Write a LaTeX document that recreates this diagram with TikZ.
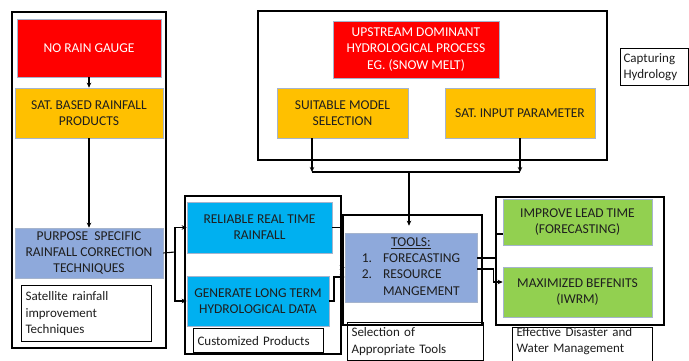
\documentclass[tikz,border=0pt]{standalone}
\usepackage{fontspec}
\setmainfont{Carlito}
\usetikzlibrary{arrows.meta}
\definecolor{cred}{RGB}{255,0,0}
\definecolor{corange}{RGB}{255,192,0}
\definecolor{cslate}{RGB}{142,169,219}
\definecolor{ccyan}{RGB}{0,176,240}
\definecolor{cgreen}{RGB}{146,208,80}
\definecolor{cedge}{RGB}{165,180,205}
\definecolor{ctext}{RGB}{30,30,30}
\begin{document}
\begin{tikzpicture}[x=1pt,y=-1pt,
  box/.style={draw=cedge,line width=0.6pt,align=center,inner sep=1pt,
    font=\fontsize{13.5}{16.2}\selectfont,text=ctext},
  frame/.style={draw=black,line width=1.3pt},
  lab/.style={draw=black,line width=1.1pt,align=left,anchor=north west,inner xsep=4pt,inner ysep=2pt,
    font=\fontsize{13}{16.5}\selectfont,text=ctext},
  line/.style={draw=black,line width=1.1pt},
  arr/.style={line,-{Stealth[length=5pt,width=4.5pt]}}]
\clip (0,0) rectangle (689,361);
\fill[white] (0,0) rectangle (689,361);

% frames
\draw[frame] (12,12) rectangle (166,348);
\draw[frame] (258,11) rectangle (607,160);
\draw[frame] (185,196) rectangle (341,354);
\draw[frame] (343,215) rectangle (482,325);
\draw[frame] (496,197) rectangle (664,325);

% left column
\node[box,fill=cred,text=white,minimum width=144pt,minimum height=58pt] (nrg) at (89,48) {NO RAIN GAUGE};
\node[box,fill=corange,minimum width=148pt,minimum height=50pt] (sat) at (89,113) {SAT. BASED RAINFALL\\PRODUCTS};
\node[box,fill=cslate,minimum width=148pt,minimum height=50pt] (purpose) at (89,253) {PURPOSE\ \ SPECIFIC\\RAINFALL CORRECTION\\TECHNIQUES};
\node[lab,text width=122pt,minimum height=56pt] (lab1) at (21,285) {Satellite rainfall\\improvement\\Techniques};

% top block
\node[box,fill=cred,text=white,minimum width=166pt,minimum height=57pt] (up) at (416,49.5) {UPSTREAM DOMINANT\\HYDROLOGICAL PROCESS\\EG. (SNOW MELT)};
\node[box,fill=corange,minimum width=131pt,minimum height=50pt] (suit) at (342.5,113) {SUITABLE MODEL\\SELECTION};
\node[box,fill=corange,minimum width=150pt,minimum height=50pt] (satin) at (520,113) {SAT. INPUT PARAMETER};
\node[lab,inner xsep=3pt,text width=62pt,minimum height=37pt] (lab2) at (620,48) {Capturing\\Hydrology};

% customized products
\node[box,fill=ccyan,minimum width=145pt,minimum height=51pt] (rel) at (259.5,227.5) {RELIABLE REAL TIME\\RAINFALL};
\node[box,fill=ccyan,minimum width=142pt,minimum height=50pt] (gen) at (258,301) {GENERATE LONG TERM\\HYDROLOGICAL DATA};
\node[lab,text width=122pt,minimum height=24pt] (lab3) at (193,328) {Customized Products};

% tools
\node[box,fill=cslate,minimum width=132pt,minimum height=69pt,inner sep=0pt] (tools) at (411,267.5)
  {\begin{tabular}{@{}l@{\hspace{11pt}}l@{}}\multicolumn{2}{c}{\underline{TOOLS:}}\\1.&FORECASTING\\2.&RESOURCE\\&MANGEMENT\end{tabular}};
\node[lab,text width=128pt,minimum height=38pt] (lab4) at (347,322) {Selection of\\Appropriate Tools};

% outcomes
\node[box,fill=cgreen,minimum width=149pt,minimum height=46pt] (imp) at (577.5,222) {IMPROVE LEAD TIME\\(FORECASTING)};
\node[box,fill=cgreen,minimum width=149pt,minimum height=50pt] (max) at (577.5,292) {MAXIMIZED BEFENITS\\(IWRM)};
\node[lab,inner ysep=0pt,text width=132pt,font=\fontsize{13}{15.5}\selectfont] (lab5) at (512,327) {Effective Disaster and\\Water Management\\[3pt]\mbox{}};

% connectors
\draw[arr] (nrg.south) -- (sat.north);
\draw[arr] (sat.south) -- (purpose.north);
\coordinate (p1) at (175,252);
\draw[line] (purpose.east) -- (p1);
\draw[arr] (p1) |- (rel.west);
\draw[arr] (p1) |- (gen.west);

\coordinate (r1) at (341,227.5);
\draw[arr] (rel.east) -- (r1) |- (tools.west);
\coordinate (g1) at (334,277);
\draw[arr] (gen.east) -| (g1) -- (tools.west |- g1);

\coordinate (j0) at (312,172);
\coordinate (j2) at (520,172);
\coordinate (j1) at (409,172);
\draw[arr] ([xshift=-30.5pt]suit.south) -- (j0);
\draw[arr] (satin.south) -- (j2);
\draw[line] (j0) -- (j2);
\draw[arr,shorten >=7pt] (j1) -- (j1 |- tools.north);

\draw[line] ([yshift=9.5pt]tools.east) -- ++(19,0) |- ([yshift=-12pt]imp.west);
\draw[arr] ([yshift=-1.5pt]tools.east) -- ++(16,0) |- ([yshift=10pt]max.west);
\end{tikzpicture}
\end{document}
